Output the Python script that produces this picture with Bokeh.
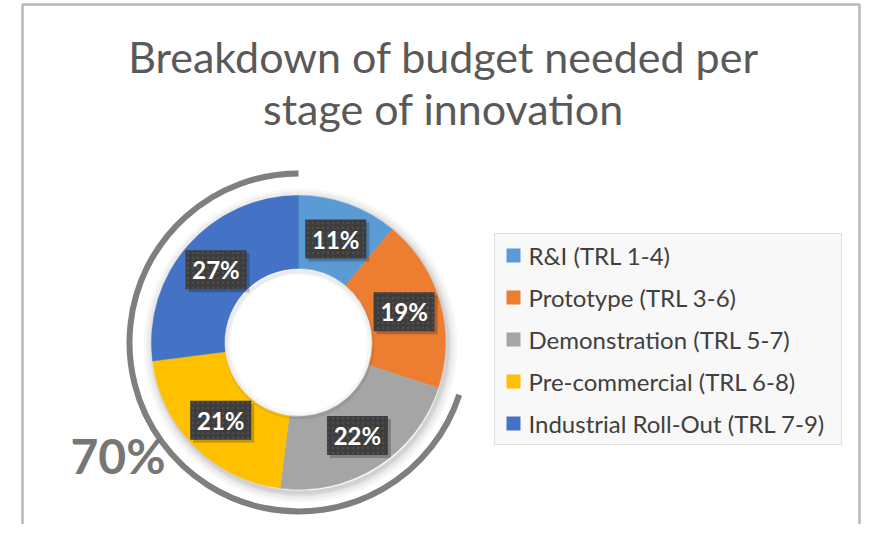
import math
from bokeh.plotting import figure
from bokeh.models import Range1d, ColumnDataSource
from bokeh.embed import file_html
from bokeh.resources import INLINE
from bokeh.core.properties import value

# ---- data ----
stages = ["R&I (TRL 1-4)", "Prototype (TRL 3-6)", "Demonstration (TRL 5-7)",
          "Pre-commercial (TRL 6-8)", "Industrial Roll-Out (TRL 7-9)"]
shares = [11, 19, 22, 21, 27]
colors = ["#5B9BD5", "#ED7D31", "#A5A5A5", "#FFC000", "#4472C4"]
title_lines = ["Breakdown of budget needed per", "stage of innovation"]
highlighted = [2, 3, 4]   # stages grouped by the outer arc

# ---- geometry (pixels; y up) ----
W, H = 861, 524
CX, CY = 298, 540 - 342
R_OUT, R_IN = 147, 74
R_LABEL = 110
R_ARC = 169

total = sum(shares)
starts, ends, mids = [], [], []
cum = 0
for v in shares:
    a0 = math.pi / 2 - 2 * math.pi * cum / total
    a1 = math.pi / 2 - 2 * math.pi * (cum + v) / total
    starts.append(a0)
    ends.append(a1)
    mids.append((a0 + a1) / 2)
    cum += v

p = figure(width=W, height=H, x_range=Range1d(0, W), y_range=Range1d(540 - H, 540),
           output_backend="svg", toolbar_location=None, min_border=0)
p.axis.visible = False
p.grid.visible = False
p.outline_line_color = None
p.background_fill_color = "white"
p.border_fill_color = "white"

# frame border
p.line(x=[22, 22, 859, 859], y=[-10, 536, 536, -10], line_color="#b8b8b8", line_width=2.5)

# title
for i, t in enumerate(title_lines):
    p.text(x=[443], y=[540 - 56 - 52 * i], text=[t], text_font=value("Lato"), text_font_size="43px",
           text_color="#595959", text_align="center", text_baseline="middle")

# soft shadow around donut
for k, a in [(10, 0.03), (7, 0.04), (4, 0.05), (2, 0.06)]:
    p.annulus(x=[CX + 2], y=[CY - 3], inner_radius=R_OUT - 2, outer_radius=R_OUT + k,
              fill_color="#000000", fill_alpha=a, line_color=None)

src = ColumnDataSource(dict(start=starts, end=ends, color=colors))
p.annular_wedge(x=CX, y=CY, inner_radius=R_IN, outer_radius=R_OUT, start_angle="start",
                end_angle="end", direction="clock", fill_color="color", line_color="color",
                line_width=0.5, source=src)

# inner hole shadow
for k, a in [(6, 0.035), (3, 0.045)]:
    p.annulus(x=[CX + 1], y=[CY - 2], inner_radius=R_IN - k, outer_radius=R_IN + 1,
              fill_color="#000000", fill_alpha=a, line_color=None)
p.circle(x=[CX], y=[CY], radius=R_IN - 6, fill_color="white", line_color=None)

# outer arc for highlighted group
arc_start = ends[highlighted[0] - 1]
arc_end = ends[highlighted[-1]]
p.arc(x=[CX], y=[CY], radius=R_ARC, start_angle=arc_start, end_angle=arc_end,
      direction="clock", line_color="#7f7f7f", line_width=6)
grp = sum(shares[i] for i in highlighted)
p.text(x=[70], y=[540 - 455], text=[f"{grp}%"], text_font=value("Lato"), text_font_size="48px",
       text_font_style="bold", text_color="#767676", text_align="left", text_baseline="middle")

# data labels
lx = [CX + R_LABEL * math.cos(a) for a in mids]
ly = [CY + R_LABEL * math.sin(a) for a in mids]
labels = [f"{v}%" for v in shares]
p.rect(x=[x + 3 for x in lx], y=[y - 3 for y in ly], width=61, height=39,
       fill_color="#000000", fill_alpha=0.22, line_color=None)
p.rect(x=lx, y=ly, width=61, height=39, fill_color="#3d3d3d", line_color=None,
       hatch_pattern="dot", hatch_color="#565656", hatch_scale=5, hatch_alpha=0.6)
p.text(x=lx, y=ly, text=labels, text_font=value("Lato"), text_font_size="24px",
       text_font_style="bold", text_color="white", text_align="center", text_baseline="middle")

# legend
p.rect(x=[(494 + 841) / 2], y=[540 - (233 + 444) / 2], width=841 - 494, height=444 - 233,
       fill_color="#f8f8f8", line_color="#dedede", line_width=1)
rows_y = [540 - (255 + 42 * i) for i in range(len(stages))]
p.rect(x=[513] * len(stages), y=rows_y, width=14, height=14, fill_color=colors, line_color=None)
p.text(x=[528] * len(stages), y=rows_y, text=stages, text_font=value("Lato"),
       text_font_size="24px", text_color="#404040", text_align="left", text_baseline="middle")

open("out.html", "w").write(file_html(p, INLINE))
